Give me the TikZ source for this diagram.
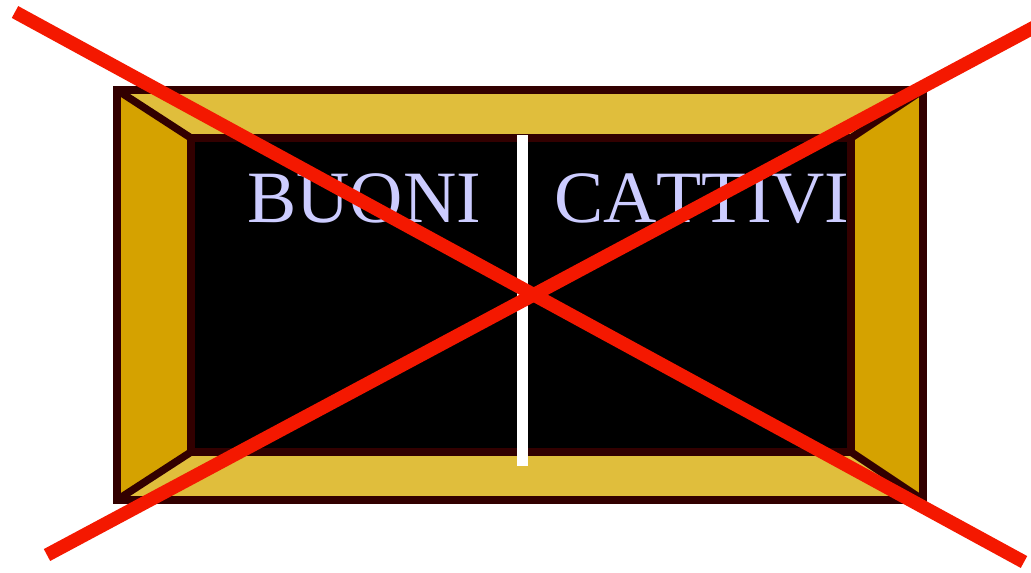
\documentclass[tikz,border=0pt]{standalone}
\usepackage{fontspec}
\setmainfont[Kerning=Off]{Liberation Serif}
\usepackage{tikz}
\usetikzlibrary{calc}
\definecolor{frdark}{RGB}{50,0,0}
\definecolor{frlight}{RGB}{224,190,60}
\definecolor{frside}{RGB}{213,162,0}
\definecolor{txtlav}{RGB}{204,204,255}
\definecolor{xred}{RGB}{244,24,0}
\tikzset{
  edge/.style={draw=frdark, line width=0.15cm},
  divider/.style={draw=white, line width=0.22cm},
  label/.style={font=\fontsize{42}{50}\selectfont, text=txtlav,
    inner sep=0pt, anchor=base west},
  cross/.style={draw=xred, line width=0.27cm}
}

\begin{document}
\begin{tikzpicture}[x=0.02cm, y=-0.02cm]
  \useasboundingbox (0,0) rectangle (1031,572);
  % Frame corners
  \coordinate (otl) at (117,90);
  \coordinate (otr) at (923,90);
  \coordinate (obl) at (117,500);
  \coordinate (obr) at (923,500);
  \coordinate (itl) at (191,138);
  \coordinate (itr) at (851,138);
  \coordinate (ibl) at (191,452);
  \coordinate (ibr) at (851,452);
  % Bands
  \fill[frlight] (otl) -- (otr) -- (itr) -- (itl) -- cycle;
  \fill[frlight] (obl) -- (obr) -- (ibr) -- (ibl) -- cycle;
  \fill[frside] (otl) -- (itl) -- (ibl) -- (obl) -- cycle;
  \fill[frside] (otr) -- (itr) -- (ibr) -- (obr) -- cycle;
  % Board
  \filldraw[edge, fill=black] (itl) rectangle (ibr);
  % Outlines
  \draw[edge] (otl) rectangle (obr);
  \draw[edge] (otl) -- (itl);
  \draw[edge] (otr) -- (itr);
  \draw[edge] (obl) -- (ibl);
  \draw[edge] (obr) -- (ibr);
  % Divider
  \coordinate (dtop) at (522,135);
  \coordinate (dbot) at (522,466);
  \draw[divider] (dtop) -- (dbot);
  % Labels
  \node[label] (buoni) at (247,222) {BUONI};
  \node[label] (cattivi) at (554,222) {CATTIVI};
  % Cross
  \coordinate (xa) at (15,12);
  \coordinate (xb) at (1024,562);
  \coordinate (xc) at (47,555);
  \coordinate (xd) at (1042,23);
  \draw[cross] (xa) -- (xb);
  \draw[cross] (xc) -- (xd);
\end{tikzpicture}
\end{document}
